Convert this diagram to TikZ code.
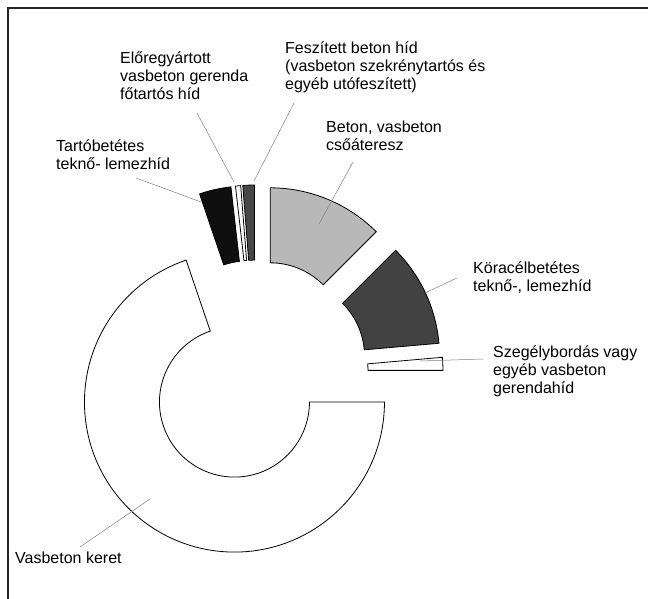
\documentclass[tikz,border=0pt]{standalone}
\usepackage{fontspec}
\setmainfont{Liberation Sans}
\usetikzlibrary{calc}
\tikzset{
     slice/.style  = {draw=black, line width=0.8pt, line join=miter},
     leader/.style = {draw=black!50, line width=0.5pt},
     lbl/.style    = {font=\fontsize{16}{18}\selectfont, align=left, anchor=north west, inner sep=0pt},
    }
% one exploded piece of the ring: start angle, end angle, fill
\newcommand{\ringslice}[3]{%
  \path[slice, #3, shift={({(#1+#2)/2}:37pt)}]
    (#1:75pt) arc[start angle=#1, end angle=#2, radius=75pt]
    -- (#2:150pt) arc[start angle=#2, end angle=#1, radius=150pt] -- cycle;}

\begin{document}
\begin{tikzpicture}[x=1pt,y=1pt]
    \useasboundingbox (0,0) rectangle (648,599);
    \draw[line width=1.2pt, black!85] (8,0) -- (8,591) -- (648,591);

    \begin{scope}[shift={(256,227)}]
        \ringslice{108.8}{360}{fill=white}
        \ringslice{0}{5}{fill=white}
        \ringslice{5}{45}{fill=black!74}
        \ringslice{45}{90}{fill=black!28}
        \ringslice{90}{94.5}{fill=black!72}
        \ringslice{94.5}{96.5}{fill=white}
        \ringslice{96.5}{108.8}{fill=black!94}
    \end{scope}

    \node [lbl] (elo)     at (120,547) {Előregyártott\\vasbeton gerenda\\főtartós híd};
    \node [lbl] (fesz)    at (285,557) {Feszített beton híd\\(vasbeton szekrénytartós és\\egyéb utófeszített)};
    \node [lbl] (beton)   at (326,478) {Beton, vasbeton\\csőáteresz};
    \node [lbl] (tarto)   at (56,459)  {Tartóbetétes\\teknő- lemezhíd};
    \node [lbl] (koracel) at (473,337) {Köracélbetétes\\teknő-, lemezhíd};
    \node [lbl] (szegely) at (493,253) {Szegélybordás vagy\\egyéb vasbeton\\gerendahíd};
    \node [lbl] (keret)   at (15,47)   {Vasbeton keret};

    \coordinate (elo-a)     at (197,486);  \coordinate (elo-b)     at (234,417);
    \coordinate (fesz-a)    at (294,496);  \coordinate (fesz-b)    at (254,418);
    \coordinate (tarto-a)   at (136,421);  \coordinate (tarto-b)   at (201,397);
    \coordinate (beton-a)   at (353,437);  \coordinate (beton-b)   at (319,375);
    \coordinate (koracel-a) at (457,321);  \coordinate (koracel-b) at (425,306);
    \coordinate (szegely-a) at (483,240);  \coordinate (szegely-b) at (420,238);
    \coordinate (keret-a)   at (80,52);    \coordinate (keret-b)   at (150,100);

    \path[leader]
        (elo-a) -- (elo-b)
        (fesz-a) -- (fesz-b)
        (tarto-a) -- (tarto-b)
        (beton-a) -- (beton-b)
        (koracel-a) -- (koracel-b)
        (szegely-a) -- (szegely-b)
        (keret-a) -- (keret-b);
\end{tikzpicture}
\end{document}
